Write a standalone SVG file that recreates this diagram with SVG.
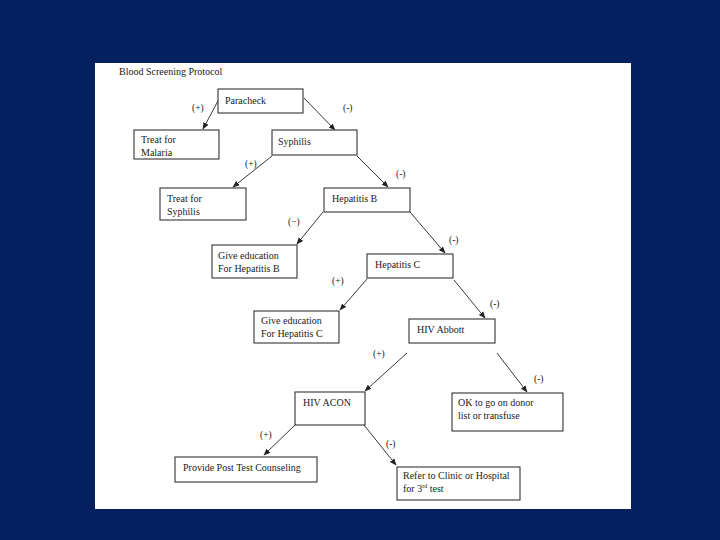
<svg xmlns="http://www.w3.org/2000/svg" width="720" height="540" viewBox="0 0 720 540">
<style>
.box{fill:#fff;stroke:#333;stroke-width:1.1}
.t{font-family:"Liberation Serif","Times New Roman",serif;font-size:10px;fill:#1a1a1a}
.lb{font-family:"Liberation Serif","Times New Roman",serif;font-size:9.5px;fill:#1a1a1a}
.c{stroke:#222;stroke-width:0.9;fill:none;marker-end:url(#ah)}
</style>
<defs>
<marker id="ah" viewBox="0 0 10 10" refX="9" refY="5" markerWidth="7" markerHeight="7" markerUnits="userSpaceOnUse" orient="auto">
<path d="M0,1 L10,5 L0,9 Z" fill="#222"/>
</marker>
</defs>
<rect x="0" y="0" width="720" height="540" fill="#04205e"/>
<rect x="95" y="63" width="536" height="446" fill="#fff"/>
<text class="t" x="119" y="75">Blood Screening Protocol</text>

<g id="connectors">
<line class="c" x1="219" y1="99" x2="203" y2="129"/>
<line class="c" x1="304" y1="98" x2="335" y2="130"/>
<line class="c" x1="272" y1="156" x2="233" y2="187"/>
<line class="c" x1="357" y1="156" x2="388" y2="187"/>
<line class="c" x1="323" y1="212" x2="297" y2="244"/>
<line class="c" x1="410" y1="212" x2="445" y2="253"/>
<line class="c" x1="367" y1="279" x2="340" y2="310"/>
<line class="c" x1="454" y1="280" x2="485" y2="318"/>
<line class="c" x1="407" y1="353" x2="365" y2="391"/>
<line class="c" x1="497" y1="353" x2="527" y2="392"/>
<line class="c" x1="295" y1="425" x2="264" y2="455"/>
<line class="c" x1="364" y1="425" x2="396" y2="465"/>
</g>
<g id="labels">
<text class="lb" x="192" y="111">(+)</text>
<text class="lb" x="343" y="111">(-)</text>
<text class="lb" x="245" y="167">(+)</text>
<text class="lb" x="396" y="177">(-)</text>
<text class="lb" x="288" y="225">(−)</text>
<text class="lb" x="449" y="243">(-)</text>
<text class="lb" x="332" y="284">(+)</text>
<text class="lb" x="490" y="307">(-)</text>
<text class="lb" x="373" y="357">(+)</text>
<text class="lb" x="534" y="382">(-)</text>
<text class="lb" x="260" y="438">(+)</text>
<text class="lb" x="386" y="447">(-)</text>
</g>

<g id="paracheck"><rect class="box" x="218" y="89" width="85" height="24"/><text class="t" x="225" y="104">Paracheck</text></g>
<g id="treat-malaria"><rect class="box" x="134" y="130" width="85" height="29"/><text class="t" x="141" y="143">Treat for</text><text class="t" x="141" y="156">Malaria</text></g>
<g id="syphilis"><rect class="box" x="272" y="130" width="85" height="25"/><text class="t" x="278" y="145">Syphilis</text></g>
<g id="treat-syphilis"><rect class="box" x="160" y="188" width="86" height="32"/><text class="t" x="167" y="202">Treat for</text><text class="t" x="167" y="215">Syphilis</text></g>
<g id="hepatitis-b"><rect class="box" x="324" y="188" width="86" height="24"/><text class="t" x="332" y="202">Hepatitis B</text></g>
<g id="educ-b"><rect class="box" x="212" y="245" width="85" height="33"/><text class="t" x="218" y="259">Give education</text><text class="t" x="218" y="272">For Hepatitis B</text></g>
<g id="hepatitis-c"><rect class="box" x="367" y="254" width="86" height="24"/><text class="t" x="375" y="268">Hepatitis C</text></g>
<g id="educ-c"><rect class="box" x="254" y="311" width="85" height="32"/><text class="t" x="261" y="324">Give education</text><text class="t" x="261" y="337">For Hepatitis C</text></g>
<g id="hiv-abbott"><rect class="box" x="409" y="319" width="86" height="24"/><text class="t" x="417" y="333">HIV Abbott</text></g>
<g id="hiv-acon"><rect class="box" x="295" y="392" width="70" height="33"/><text class="t" x="303" y="406">HIV ACON</text></g>
<g id="ok-donor"><rect class="box" x="452" y="393" width="111" height="38"/><text class="t" x="458" y="406">OK to go on donor</text><text class="t" x="458" y="419">list or transfuse</text></g>
<g id="post-test"><rect class="box" x="175" y="457" width="142" height="25"/><text class="t" x="183" y="471">Provide Post Test Counseling</text></g>
<g id="refer"><rect class="box" x="397" y="467" width="123" height="33"/><text class="t" x="403" y="479">Refer to Clinic or Hospital</text><text class="t" x="403" y="492">for 3<tspan font-size="6" dy="-4">rd</tspan><tspan dy="4"> test</tspan></text></g>
</svg>
